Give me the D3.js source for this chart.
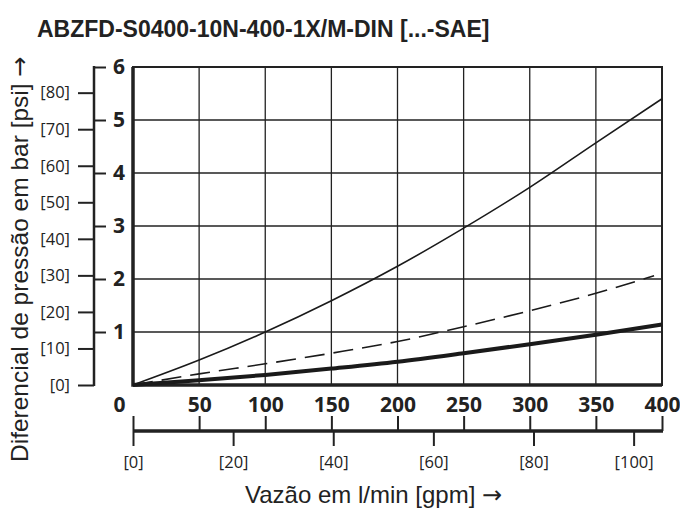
<!DOCTYPE html>
<html lang="pt">
    <head>
        <meta charset="utf-8">
        <title>ABZFD pressure drop</title>
        <script type="text/javascript" src="https://d3js.org/d3.v7.min.js"></script>
        <style type="text/css">
            body { margin: 0; background: #fff; }
            svg { display: block; }
            .grid line { stroke: #222; stroke-width: 1.3; }
            .axis path, .axis line { fill: none; stroke: #222; }
            .axis text { fill: #222; }
            .bold text { font-family: "Open Sans", sans-serif; font-weight: bold; font-size: 21px; }
            .thin text { font-family: "Open Sans", sans-serif; font-size: 16.5px; }
            .arrow { font-family: "DejaVu Sans", sans-serif; }
        </style>
    </head>
    <body>
        <script type="text/javascript">

            // flow in l/min, pressure drop in bar
            var flow = [0, 50, 100, 150, 200, 250, 300, 350, 400];
            var flowDashed = [0, 50, 100, 150, 200, 250, 300, 350, 394];
            var dpThin = [0, 0.47, 1.0, 1.59, 2.24, 2.96, 3.73, 4.57, 5.40];
            var dpDashed = [0, 0.21, 0.40, 0.60, 0.82, 1.10, 1.40, 1.73, 2.06];
            var dpThick = [0, 0.09, 0.19, 0.31, 0.44, 0.60, 0.77, 0.95, 1.14];

            var barTicks = [1, 2, 3, 4, 5, 6];
            var psiTicks = [0, 10, 20, 30, 40, 50, 60, 70, 80];
            var flowTicks = [0, 50, 100, 150, 200, 250, 300, 350, 400];
            var gpmTicks = [0, 20, 40, 60, 80, 100];

            var BAR_TO_PSI = 14.5038;
            var GPM_TO_LMIN = 3.78541;

            var w = 680, h = 510;
            var pLeft = 133, pRight = 662, pTop = 67, pBottom = 385;

            var svg = d3.select("body")
                        .append("svg")
                        .attr("width", w)
                        .attr("height", h);

            var x = d3.scaleLinear().domain([0, 400]).range([pLeft, pRight]);
            var y = d3.scaleLinear().domain([0, 6]).range([pBottom, pTop]);
            var yPsi = d3.scaleLinear().domain([0, 6 * BAR_TO_PSI]).range([pBottom, pTop]);
            var xGpm = d3.scaleLinear().domain([0, 400 / GPM_TO_LMIN]).range([pLeft, pRight]);

            // title
            svg.append("text")
                .attr("x", 37)
                .attr("y", 37)
                .style("font-family", "'Liberation Sans', Arial, sans-serif")
                .style("font-weight", "bold")
                .style("font-size", "23px")
                .style("fill", "#222")
                .text("ABZFD-S0400-10N-400-1X/M-DIN [...-SAE]");

            // grid
            var grid = svg.append("g").attr("class", "grid");
            grid.selectAll(".gx")
                .data(flowTicks.slice(1, -1))
                .enter()
                .append("line")
                .attr("x1", function(d) { return x(d); })
                .attr("x2", function(d) { return x(d); })
                .attr("y1", pTop)
                .attr("y2", pBottom);
            grid.selectAll(".gy")
                .data(barTicks.slice(0, -1))
                .enter()
                .append("line")
                .attr("x1", pLeft)
                .attr("x2", pRight)
                .attr("y1", function(d) { return y(d); })
                .attr("y2", function(d) { return y(d); });

            // frame
            svg.append("rect")
                .attr("x", pLeft)
                .attr("y", pTop)
                .attr("width", pRight - pLeft)
                .attr("height", pBottom - pTop)
                .attr("fill", "none")
                .attr("stroke", "#222")
                .attr("stroke-width", 2);
            svg.append("path")
                .attr("d", "M" + pLeft + "," + pTop + "V" + pBottom + "H" + pRight)
                .attr("fill", "none")
                .attr("stroke", "#222")
                .attr("stroke-width", 3.5);

            // curves
            var line = d3.line()
                .x(function(d) { return x(d[0]); })
                .y(function(d) { return y(d[1]); })
                .curve(d3.curveMonotoneX);

            var curves = [
                {fl: flow, dp: dpThin, width: 1.6, dash: null},
                {fl: flowDashed, dp: dpDashed, width: 1.6, dash: "20,9"},
                {fl: flow, dp: dpThick, width: 4, dash: null}
            ];

            svg.selectAll(".curve")
                .data(curves)
                .enter()
                .append("path")
                .attr("class", "curve")
                .attr("d", function(c) { return line(d3.zip(c.fl, c.dp)); })
                .attr("fill", "none")
                .attr("stroke", "#1a1a1a")
                .attr("stroke-width", function(c) { return c.width; })
                .attr("stroke-dasharray", function(c) { return c.dash; });

            // left axes: bar (ticks to the right) and psi (ticks to the left)
            var axisX = 94;

            var barAxis = d3.axisRight(y)
                .tickValues(barTicks)
                .tickSize(12)
                .tickPadding(7)
                .tickFormat(d3.format("d"));
            svg.append("g")
                .attr("class", "axis bold")
                .attr("transform", "translate(" + axisX + ",0)")
                .call(barAxis)
                .call(function(g) { g.select(".domain").remove(); })
                .selectAll("line").attr("stroke-width", 2);

            var psiAxis = d3.axisLeft(yPsi)
                .tickValues(psiTicks)
                .tickSize(16)
                .tickPadding(8)
                .tickFormat(function(d) { return "[" + d + "]"; });
            svg.append("g")
                .attr("class", "axis thin")
                .attr("transform", "translate(" + axisX + ",0)")
                .call(psiAxis)
                .call(function(g) { g.select(".domain").remove(); })
                .selectAll("line").attr("stroke-width", 2);

            svg.append("line")
                .attr("x1", axisX).attr("x2", axisX)
                .attr("y1", pTop - 1).attr("y2", pBottom + 1)
                .attr("stroke", "#222")
                .attr("stroke-width", 2.5);

            // bottom axes: l/min (ticks up) and gpm (ticks down)
            var axisY = 431;

            var flowAxis = d3.axisTop(x)
                .tickValues(flowTicks)
                .tickSize(15)
                .tickSizeOuter(0)
                .tickPadding(4)
                .tickFormat(d3.format("d"));
            var fg = svg.append("g")
                .attr("class", "axis bold")
                .attr("transform", "translate(0," + axisY + ")")
                .call(flowAxis);
            fg.selectAll("line").attr("stroke-width", 2);
            fg.select(".domain").remove();
            fg.selectAll("text")
                .filter(function(d) { return d === 0; })
                .attr("x", -14);

            var gpmAxis = d3.axisBottom(xGpm)
                .tickValues(gpmTicks)
                .tickSize(15)
                .tickSizeOuter(0)
                .tickPadding(10)
                .tickFormat(function(d) { return "[" + d + "]"; });
            var gg = svg.append("g")
                .attr("class", "axis thin")
                .attr("transform", "translate(0," + axisY + ")")
                .call(gpmAxis);
            gg.selectAll("line").attr("stroke-width", 2);
            gg.select(".domain").remove();

            svg.append("line")
                .attr("x1", pLeft).attr("x2", pRight + 1)
                .attr("y1", axisY).attr("y2", axisY)
                .attr("stroke", "#222")
                .attr("stroke-width", 3.5);

            // axis titles
            var xt = svg.append("text")
                .attr("x", 245)
                .attr("y", 503)
                .style("font-family", "'Liberation Sans', Arial, sans-serif")
                .style("font-size", "24px")
                .style("fill", "#222");
            xt.append("tspan").text("Vazão em l/min [gpm] ");
            xt.append("tspan").attr("class", "arrow").text("→");

            var yt = svg.append("text")
                .attr("transform", "translate(28,462) rotate(-90)")
                .style("font-family", "'Liberation Sans', Arial, sans-serif")
                .style("font-size", "24.5px")
                .style("fill", "#222");
            yt.append("tspan").text("Diferencial de pressão em bar [psi] ");
            yt.append("tspan").attr("class", "arrow").text("→");

        </script>
    </body>
</html>
